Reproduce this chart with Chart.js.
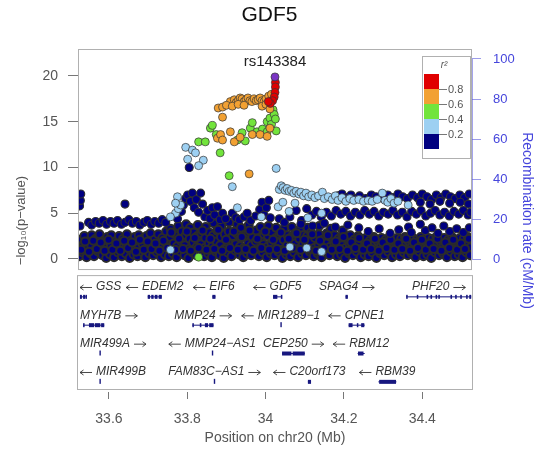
<!DOCTYPE html>
<html>
<head>
<meta charset="utf-8">
<script src="https://cdn.jsdelivr.net/npm/chart.js@4.4.1/dist/chart.umd.min.js"></script>
<style>
  html, body { margin: 0; padding: 0; background: #fff; }
  canvas { display: block; }
</style>
</head>
<body>
<canvas id="locus" width="539" height="449"></canvas>
<script>
const FONT = "'Liberation Sans', Arial, Helvetica, sans-serif";

// axis ticks
const posTicks = [33.6, 33.8, 34, 34.2, 34.4];
const pTicks = [0, 5, 10, 15, 20];
const recombTicks = [0, 20, 40, 60, 80, 100];
const ldBreaks = ['0.8', '0.6', '0.4', '0.2'];

// SNPs: [position (Mb), -log10 p]
const leadSnp = [[34.024, 19.9]];
const leadName = 'rs143384';

const ldRed = [[34.025, 19.3], [34.025, 18.8], [34.024, 18.2], [34.022, 17.7], [34.018, 17.3], [34.012, 17.0], [34.007, 17.2]];

const ldOrange = [
  [33.910, 17.2], [33.920, 17.4], [33.925, 17.1], [33.930, 17.3], [33.935, 17.6], [33.940, 17.5], [33.945, 17.2],
  [33.950, 17.4], [33.955, 17.6], [33.960, 17.3], [33.965, 17.2], [33.971, 17.5], [33.976, 17.3], [33.981, 17.4],
  [33.986, 17.6], [33.991, 17.3], [33.996, 17.2], [34.001, 17.5], [34.008, 17.8], [34.015, 18.0],
  [33.879, 16.5], [33.890, 16.6], [33.900, 16.8], [33.915, 16.7], [33.930, 16.9], [33.945, 16.8],
  [33.991, 16.7], [34.001, 16.9], [34.011, 16.4],
  [33.890, 15.5], [33.910, 13.9], [33.877, 13.2], [33.885, 13.6], [33.890, 13.0], [33.920, 12.8],
  [33.935, 13.3], [33.966, 13.6], [33.986, 13.6], [34.004, 13.4], [34.011, 14.3], [33.958, 9.3]
];

const ldGreen = [
  [33.829, 12.8], [33.846, 12.8], [33.859, 14.3], [33.864, 14.6], [33.874, 13.6], [33.882, 13.3], [33.884, 11.6],
  [33.907, 9.1], [33.928, 13.0], [33.940, 13.8], [33.948, 12.9], [33.961, 14.3], [33.966, 14.9], [33.978, 13.9],
  [33.992, 14.2], [34.004, 15.0], [34.011, 15.4], [34.019, 16.3], [34.022, 15.8], [34.004, 13.9], [34.015, 14.7],
  [34.025, 15.3], [34.027, 14.0], [33.829, 0.2]
];

const ldLightBlue = [
  [33.796, 12.2], [33.813, 11.9], [33.821, 11.6], [33.801, 10.9], [33.841, 10.8], [33.829, 10.2],
  [33.915, 7.9], [33.928, 5.6], [33.989, 4.6], [34.032, 5.7], [33.770, 5.0], [33.777, 5.5], [33.783, 5.9],
  [33.775, 6.8], [33.770, 6.1], [33.757, 4.6], [33.757, 1.0],
  [34.027, 9.9], [34.035, 7.6], [34.040, 8.0], [34.045, 7.8], [34.050, 7.5], [34.055, 7.7], [34.060, 7.4],
  [34.066, 7.5], [34.072, 7.2], [34.078, 7.4], [34.085, 7.1], [34.090, 7.3], [34.097, 6.9], [34.103, 7.2],
  [34.110, 6.8], [34.118, 7.0], [34.126, 6.7], [34.135, 6.9], [34.145, 7.3], [34.150, 6.6], [34.160, 6.8],
  [34.170, 6.5], [34.178, 6.9], [34.185, 6.4], [34.195, 6.7], [34.205, 6.3], [34.215, 6.6], [34.225, 6.4],
  [34.238, 6.5], [34.250, 6.3], [34.262, 6.4], [34.272, 6.3], [34.285, 6.5], [34.298, 7.2], [34.305, 6.4],
  [34.312, 6.2], [34.320, 6.6], [34.328, 6.1], [34.338, 6.3], [34.364, 5.9],
  [34.044, 6.2], [34.062, 1.3], [34.105, 1.2], [34.143, 0.8], [34.143, 5.0], [34.108, 4.5], [34.060, 5.2], [34.075, 6.1]
];

// r2 < 0.2: low carpet, left to right
const navyCarpetLeft = [
  [33.524, 0.3], [33.526, 1.2], [33.527, 2.1], [33.533, 0.7], [33.535, 1.6], [33.537, 2.5], [33.543, 0.2], [33.545, 1.1],
  [33.546, 1.9], [33.553, 0.6], [33.555, 1.4], [33.556, 2.6], [33.562, 0.3], [33.565, 1.0], [33.566, 2.2], [33.573, 0.8],
  [33.574, 1.7], [33.576, 2.7], [33.583, 0.4], [33.585, 1.3], [33.586, 2.0], [33.593, 0.1], [33.594, 0.9], [33.596, 2.4],
  [33.603, 0.5], [33.605, 1.5], [33.606, 2.6], [33.613, 0.2], [33.614, 1.1], [33.616, 1.9], [33.623, 0.7], [33.625, 1.6],
  [33.626, 2.5], [33.633, 0.3], [33.634, 1.2], [33.636, 2.2], [33.643, 0.6], [33.645, 1.4], [33.646, 2.7], [33.653, 0.1],
  [33.654, 1.0], [33.656, 2.0], [33.663, 0.5], [33.664, 1.5], [33.666, 2.4], [33.673, 0.3], [33.675, 1.2], [33.676, 2.6],
  [33.683, 0.8], [33.685, 1.7], [33.686, 2.2], [33.693, 0.2], [33.694, 1.1], [33.696, 2.5], [33.703, 0.6], [33.705, 1.4],
  [33.706, 2.8], [33.713, 0.4], [33.714, 1.0], [33.716, 2.1], [33.723, 0.7], [33.725, 1.6], [33.726, 2.7], [33.733, 0.2],
  [33.735, 1.3], [33.736, 2.3], [33.743, 0.5], [33.744, 1.8], [33.746, 3.0]
];

const navyCarpetMid = [
  [33.753, 0.3], [33.755, 1.2], [33.756, 2.4], [33.757, 3.3], [33.763, 0.6], [33.765, 1.7], [33.766, 2.8], [33.773, 0.2],
  [33.774, 1.4], [33.776, 2.5], [33.777, 3.6], [33.783, 0.8], [33.785, 1.9], [33.786, 3.0], [33.793, 0.4], [33.794, 1.5],
  [33.796, 2.6], [33.797, 3.8], [33.803, 0.1], [33.805, 1.1], [33.806, 2.2], [33.807, 3.4], [33.813, 0.7], [33.815, 1.8],
  [33.816, 2.9], [33.823, 0.4], [33.824, 1.3], [33.826, 2.5], [33.827, 3.7], [33.833, 0.9], [33.835, 1.6], [33.836, 2.8],
  [33.843, 0.3], [33.844, 1.2], [33.846, 2.3], [33.847, 3.5], [33.853, 0.6], [33.855, 1.7], [33.856, 2.9], [33.863, 0.2],
  [33.864, 1.4], [33.866, 2.6], [33.867, 3.9], [33.873, 0.8], [33.875, 1.9], [33.876, 3.1], [33.883, 0.4], [33.884, 1.5],
  [33.886, 2.4], [33.887, 3.6], [33.893, 0.1], [33.895, 1.1], [33.896, 2.7], [33.903, 0.7], [33.904, 1.8], [33.906, 3.0],
  [33.907, 4.0], [33.913, 0.3], [33.915, 1.3], [33.916, 2.5], [33.923, 0.9], [33.924, 1.6], [33.926, 2.8], [33.927, 3.8],
  [33.933, 0.5], [33.935, 1.4], [33.936, 2.3], [33.937, 3.4], [33.943, 0.2], [33.944, 1.2], [33.946, 2.6], [33.953, 0.6],
  [33.955, 1.7], [33.956, 2.9], [33.957, 3.7], [33.963, 0.4], [33.964, 1.5], [33.966, 2.4], [33.973, 0.8], [33.975, 1.9],
  [33.976, 3.1], [33.983, 0.3], [33.984, 1.1], [33.986, 2.2], [33.987, 3.5], [33.993, 0.7], [33.995, 1.6], [33.996, 2.7]
];

const navyCarpetRight = [
  [34.003, 0.2], [34.004, 1.3], [34.006, 2.5], [34.007, 3.6], [34.013, 0.6], [34.015, 1.7], [34.016, 2.9], [34.023, 0.4],
  [34.024, 1.2], [34.026, 2.3], [34.027, 3.4], [34.033, 0.8], [34.035, 1.8], [34.036, 2.7], [34.043, 0.1], [34.044, 1.0],
  [34.046, 2.1], [34.047, 3.3], [34.053, 0.5], [34.055, 1.5], [34.056, 2.6], [34.063, 0.3], [34.064, 1.3], [34.066, 2.4],
  [34.067, 3.5], [34.073, 0.7], [34.075, 1.7], [34.076, 2.8], [34.083, 0.2], [34.084, 1.1], [34.086, 2.2], [34.087, 3.2],
  [34.093, 0.6], [34.095, 1.6], [34.096, 2.6], [34.103, 0.4], [34.104, 1.4], [34.106, 2.5], [34.107, 3.4], [34.113, 0.8],
  [34.115, 1.9], [34.116, 2.9], [34.123, 0.3], [34.124, 1.2], [34.126, 2.3], [34.133, 0.6], [34.135, 1.5], [34.136, 2.7],
  [34.137, 3.6], [34.143, 0.2], [34.144, 1.1], [34.146, 2.1], [34.153, 0.7], [34.155, 1.7], [34.156, 2.8], [34.163, 0.4],
  [34.164, 1.3], [34.166, 2.4], [34.167, 3.3], [34.173, 0.9], [34.175, 1.8], [34.176, 2.6], [34.183, 0.3], [34.184, 1.0],
  [34.186, 2.2], [34.193, 0.5], [34.195, 1.5], [34.196, 2.5], [34.197, 3.1], [34.203, 0.1], [34.204, 1.2], [34.206, 2.3],
  [34.213, 0.6], [34.215, 1.6], [34.216, 2.6], [34.223, 0.4], [34.224, 1.3], [34.226, 2.1], [34.233, 0.8], [34.235, 1.7],
  [34.236, 2.5], [34.243, 0.2], [34.244, 1.1], [34.246, 2.2], [34.253, 0.5], [34.255, 1.4], [34.256, 2.3], [34.263, 0.3],
  [34.264, 1.2], [34.266, 2.0], [34.273, 0.7], [34.275, 1.6], [34.276, 2.4], [34.283, 0.1], [34.284, 1.0], [34.286, 1.9],
  [34.293, 0.6], [34.295, 1.5], [34.296, 2.3], [34.303, 0.4], [34.304, 1.3], [34.306, 2.1], [34.313, 0.8], [34.315, 1.7],
  [34.316, 2.4], [34.323, 0.2], [34.324, 1.1], [34.326, 2.0], [34.333, 0.5], [34.335, 1.4], [34.336, 2.3], [34.343, 0.3],
  [34.344, 1.2], [34.346, 2.2], [34.353, 0.7], [34.355, 1.6], [34.356, 2.4], [34.363, 0.4], [34.364, 1.0], [34.366, 1.9],
  [34.373, 0.6], [34.375, 1.5], [34.376, 2.3], [34.383, 0.2], [34.384, 1.3], [34.386, 2.1], [34.393, 0.8], [34.395, 1.7],
  [34.396, 2.4], [34.403, 0.3], [34.404, 1.1], [34.406, 2.0], [34.413, 0.5], [34.415, 1.4], [34.416, 2.3], [34.423, 0.1],
  [34.424, 1.2], [34.426, 2.2], [34.433, 0.7], [34.435, 1.6], [34.436, 2.4], [34.443, 0.4], [34.444, 1.0], [34.446, 1.9],
  [34.453, 0.6], [34.455, 1.5], [34.456, 2.3], [34.463, 0.2], [34.464, 1.3], [34.466, 2.1], [34.473, 0.8], [34.475, 1.7],
  [34.476, 2.4], [34.483, 0.3], [34.484, 1.1], [34.486, 2.0], [34.493, 0.5], [34.495, 1.4], [34.496, 2.3], [34.503, 0.2],
  [34.504, 1.2], [34.506, 2.2], [34.513, 0.7], [34.515, 1.6], [34.516, 2.4], [34.522, 0.4], [34.524, 1.3], [34.525, 2.1]
];

// extra carpet SNPs sitting between the columns above
const navyCarpetFill = [
  [33.529, 1.0], [33.539, 1.9], [33.549, 0.8], [33.560, 2.0], [33.569, 1.1], [33.579, 1.8], [33.589, 0.9], [33.599, 2.1],
  [33.609, 1.0], [33.619, 1.7], [33.629, 0.9], [33.639, 2.0], [33.649, 1.2], [33.659, 1.8], [33.669, 0.8], [33.679, 2.1],
  [33.689, 1.0], [33.699, 1.9], [33.709, 1.1], [33.719, 1.7], [33.729, 0.9], [33.739, 2.0], [33.749, 1.2], [33.759, 2.9],
  [33.769, 1.0], [33.779, 2.2], [33.789, 1.1], [33.799, 3.0], [33.809, 0.9], [33.819, 2.3], [33.829, 1.2], [33.839, 3.1],
  [33.849, 1.0], [33.859, 2.2], [33.869, 1.1], [33.879, 3.2], [33.889, 0.9], [33.899, 2.1], [33.909, 1.2], [33.919, 3.0],
  [33.929, 1.0], [33.939, 2.4], [33.949, 1.1], [33.959, 3.1], [33.969, 0.9], [33.979, 2.2], [33.989, 1.2], [33.999, 3.0],
  [34.009, 1.0], [34.019, 2.1], [34.029, 1.1], [34.039, 2.9], [34.049, 0.9], [34.059, 2.2], [34.069, 1.2], [34.079, 2.8],
  [34.089, 1.0], [34.099, 2.1], [34.109, 1.1], [34.119, 2.7], [34.129, 0.9], [34.139, 2.0], [34.149, 1.2], [34.159, 2.6],
  [34.169, 1.0], [34.179, 1.9], [34.189, 1.1], [34.199, 2.4], [34.209, 0.9], [34.219, 1.8], [34.229, 1.2], [34.239, 2.3],
  [34.249, 1.0], [34.259, 1.7], [34.269, 1.1], [34.279, 2.2], [34.289, 0.9], [34.299, 1.8], [34.309, 1.2], [34.319, 2.1],
  [34.329, 1.0], [34.339, 1.7], [34.349, 1.1], [34.359, 2.2], [34.369, 0.9], [34.379, 1.8], [34.389, 1.2], [34.399, 2.1],
  [34.409, 1.0], [34.419, 1.7], [34.429, 1.1], [34.439, 2.2], [34.449, 0.9], [34.459, 1.8], [34.469, 1.2], [34.479, 2.1],
  [34.489, 1.0], [34.499, 1.7], [34.509, 1.1], [34.519, 2.2]
];

// r2 < 0.2: upper bands and strays
const navyBandLeft = [
  [33.548, 4.0], [33.556, 3.7], [33.566, 4.1], [33.575, 3.9], [33.585, 4.2], [33.594, 3.8], [33.604, 4.1], [33.613, 3.9],
  [33.622, 4.2], [33.632, 3.8], [33.641, 4.0], [33.651, 4.3], [33.660, 3.9], [33.670, 4.1], [33.679, 3.7], [33.689, 4.0],
  [33.698, 4.2], [33.708, 3.8], [33.717, 4.1], [33.727, 3.9], [33.736, 4.3], [33.745, 4.0],
  [33.526, 3.6], [33.525, 5.8], [33.527, 6.4], [33.528, 7.1], [33.641, 6.0]
];

const navyBandMid = [
  [33.805, 10.0], [33.775, 4.4], [33.785, 5.2], [33.790, 5.9], [33.796, 6.6], [33.801, 7.0], [33.808, 6.3], [33.813, 7.2],
  [33.818, 5.6], [33.823, 6.5], [33.829, 5.1], [33.834, 7.2], [33.839, 6.0], [33.845, 4.6], [33.852, 5.3], [33.858, 4.4],
  [33.864, 5.6], [33.870, 4.8], [33.877, 5.7], [33.884, 4.3], [33.890, 5.0], [33.898, 4.4], [33.915, 5.0], [33.924, 4.5],
  [33.933, 4.3], [33.945, 4.6], [33.953, 5.0], [33.962, 4.2], [33.975, 4.7], [33.985, 5.4], [33.991, 6.2], [33.996, 4.8],
  [34.002, 5.6], [34.008, 6.4], [34.012, 4.5]
];

const navyBandRight = [
  [34.185, 6.9], [34.195, 7.1], [34.206, 6.7], [34.218, 7.0], [34.228, 6.6], [34.240, 6.9], [34.256, 6.6], [34.270, 7.0],
  [34.282, 6.8], [34.300, 6.6], [34.312, 7.0], [34.325, 6.7], [34.338, 7.1], [34.350, 6.8], [34.362, 6.6], [34.375, 7.0],
  [34.388, 6.7], [34.400, 7.1], [34.412, 6.8], [34.424, 6.5], [34.436, 7.0], [34.448, 6.7], [34.460, 7.1], [34.472, 6.8],
  [34.484, 6.6], [34.496, 7.0], [34.508, 6.7], [34.520, 7.1],
  [34.395, 6.2], [34.420, 6.0], [34.445, 6.3], [34.470, 6.1], [34.497, 6.2], [34.518, 6.0],
  [34.035, 4.4], [34.048, 4.0], [34.062, 4.6], [34.078, 5.3], [34.092, 4.2], [34.105, 5.5], [34.118, 4.8], [34.130, 5.2],
  [34.142, 4.6], [34.155, 5.1], [34.168, 4.7], [34.180, 5.3], [34.192, 4.9], [34.205, 5.2], [34.217, 4.7], [34.229, 5.1],
  [34.241, 4.8], [34.253, 5.3], [34.265, 4.9], [34.277, 5.2], [34.289, 4.7], [34.301, 5.1], [34.313, 4.9], [34.325, 5.3],
  [34.337, 4.8], [34.349, 5.1], [34.361, 4.6], [34.373, 5.2], [34.385, 4.9], [34.397, 5.3], [34.409, 4.7], [34.421, 5.0],
  [34.433, 5.3], [34.445, 4.8], [34.457, 5.1], [34.469, 4.7], [34.481, 5.2], [34.493, 4.9], [34.505, 5.3], [34.517, 4.8],
  [34.524, 5.1],
  [34.262, 3.0], [34.290, 3.3], [34.318, 2.8], [34.340, 3.2], [34.365, 3.5], [34.372, 2.9], [34.395, 3.8], [34.408, 3.1],
  [34.425, 3.4], [34.440, 2.8], [34.455, 3.6], [34.470, 3.0], [34.488, 3.3], [34.505, 2.9], [34.520, 3.4],
  [34.090, 3.8], [34.120, 3.6], [34.150, 3.9], [34.178, 3.5], [34.210, 3.7], [34.238, 3.4]
];

// genes in the region
const geneNames = ['GSS', 'EDEM2', 'EIF6', 'GDF5', 'SPAG4', 'PHF20', 'MYH7B', 'MMP24', 'MIR1289-1', 'CPNE1',
  'MIR499A', 'MMP24-AS1', 'CEP250', 'RBM12', 'MIR499B', 'FAM83C-AS1', 'C20orf173', 'RBM39'];
const geneRows = [1, 1, 1, 1, 1, 1, 2, 2, 2, 2, 3, 3, 3, 3, 4, 4, 4, 4];
const geneStrands = [-1, -1, -1, -1, 1, 1, 1, 1, -1, -1, 1, -1, 1, -1, -1, 1, -1, -1];
const geneSpans = [[33.526, 33.543], [33.699, 33.735], [33.864, 33.872], [34.019, 34.042], [34.204, 34.210],
  [34.359, 34.525], [33.534, 33.588], [33.813, 33.867], [34.039, 34.039], [34.212, 34.253], [33.577, 33.577],
  [33.864, 33.864], [34.042, 34.100], [34.235, 34.253], [33.577, 33.577], [33.869, 33.869], [34.108, 34.116],
  [34.288, 34.334]];
const geneExons = [
  [[33.526, 33.531], [33.534, 33.539], [33.540, 33.543]],
  [[33.699, 33.705], [33.708, 33.714], [33.717, 33.724], [33.727, 33.735]],
  [[33.864, 33.872]],
  [[34.019, 34.030], [34.039, 34.042]],
  [[34.204, 34.210]],
  [[34.359, 34.361], [34.386, 34.389], [34.411, 34.415], [34.421, 34.425], [34.434, 34.438], [34.441, 34.445],
   [34.472, 34.476], [34.484, 34.488], [34.497, 34.501], [34.512, 34.516], [34.520, 34.525]],
  [[33.534, 33.536], [33.549, 33.562], [33.564, 33.578], [33.580, 33.588]],
  [[33.813, 33.815], [33.832, 33.836], [33.845, 33.853], [33.856, 33.867]],
  [],
  [[34.212, 34.222], [34.233, 34.236], [34.244, 34.252]],
  [],
  [],
  [[34.042, 34.066], [34.069, 34.100]],
  [[34.236, 34.250]],
  [],
  [],
  [[34.108, 34.116]],
  [[34.290, 34.333]]
];

const ldColors = ['#e00000', '#f2a133', '#72e43c', '#9dd0f2', '#000080'];
const leadColor = '#7a35c4';
const geneColor = '#17177f';
const frameColor = '#b0b0b0';
const recombBlue = '#4646dc';

// panel extents in scale units
const mainFloor = -1.1;
const geneTop = 0.58;
const geneBottom = 4.6;

function pts(list) {
  return list.map(([x, y]) => ({ x, y }));
}

function snpSet(list, color, order, edge, edgeWidth) {
  return {
    data: pts(list),
    backgroundColor: color,
    borderColor: edge || 'rgba(55,55,55,0.9)',
    borderWidth: edgeWidth || 0.8,
    pointRadius: 4,
    pointHoverRadius: 4,
    order
  };
}

const navyCarpet = navyCarpetLeft.concat(navyCarpetMid, navyCarpetRight, navyCarpetFill);
const navyUpper = navyBandLeft.concat(navyBandMid, navyBandRight);

// thin arrow for gene strand, drawn next to the name
function strandArrow(ctx, x0, x1, yy, pointsRight) {
  const tip = pointsRight ? x1 : x0;
  const dir = pointsRight ? -1 : 1;
  ctx.beginPath();
  ctx.moveTo(x0, yy);
  ctx.lineTo(x1, yy);
  ctx.moveTo(tip + dir * 3.5, yy - 2.5);
  ctx.lineTo(tip, yy);
  ctx.lineTo(tip + dir * 3.5, yy + 2.5);
  ctx.stroke();
}

const locusPanels = {
  id: 'locusPanels',
  afterDatasetsDraw(chart) {
    const { ctx, chartArea: a, scales } = chart;
    const { x, y, y2, geneRow } = scales;
    ctx.save();

    // association panel frame
    const mainBottom = y.getPixelForValue(mainFloor);
    ctx.strokeStyle = frameColor;
    ctx.lineWidth = 1;
    ctx.strokeRect(a.left + 0.5, a.top + 0.5, a.right - a.left - 1, mainBottom - a.top);

    // recombination axis line
    ctx.strokeStyle = 'rgba(90,90,220,0.55)';
    ctx.beginPath();
    ctx.moveTo(a.right + 0.5, y2.getPixelForValue(0));
    ctx.lineTo(a.right + 0.5, y2.getPixelForValue(100));
    ctx.stroke();

    // lead SNP label
    const lx = x.getPixelForValue(leadSnp[0][0]);
    const ly = y.getPixelForValue(leadSnp[0][1]);
    ctx.fillStyle = '#222';
    ctx.font = '15px ' + FONT;
    ctx.textAlign = 'center';
    ctx.textBaseline = 'middle';
    ctx.fillText(leadName, lx, ly - 15);

    // r2 legend
    const bx = a.right - 50, by = a.top + 7;
    ctx.fillStyle = '#fff';
    ctx.fillRect(bx, by, 48, 102);
    ctx.strokeStyle = frameColor;
    ctx.strokeRect(bx + 0.5, by + 0.5, 48, 102);
    ctx.fillStyle = '#555';
    ctx.font = 'italic 10px ' + FONT;
    ctx.fillText('r\u00b2', bx + 22, by + 9);
    ldColors.forEach((c, k) => {
      ctx.fillStyle = c;
      ctx.fillRect(bx + 2, by + 18 + k * 15, 15, 15);
    });
    ctx.strokeStyle = '#777';
    ctx.fillStyle = '#555';
    ctx.font = '11px ' + FONT;
    ctx.textAlign = 'left';
    ldBreaks.forEach((t, k) => {
      const ty = by + 18 + (k + 1) * 15 + 0.5;
      ctx.beginPath();
      ctx.moveTo(bx + 17, ty);
      ctx.lineTo(bx + 25, ty);
      ctx.stroke();
      ctx.fillText(t, bx + 26, ty);
    });

    // gene panel
    const gTop = geneRow.getPixelForValue(geneTop);
    const gBottom = geneRow.getPixelForValue(geneBottom);
    ctx.strokeStyle = frameColor;
    ctx.strokeRect(a.left - 0.5, gTop + 0.5, a.right - a.left + 1, gBottom - gTop);

    ctx.font = 'italic 12px ' + FONT;
    ctx.textAlign = 'left';
    const arrowLen = 12, arrowGap = 4;
    geneNames.forEach((name, i) => {
      const row = geneRows[i];
      const [s, e] = geneSpans[i];
      const x0 = x.getPixelForValue(s);
      const x1 = x.getPixelForValue(e);
      const yText = geneRow.getPixelForValue(row);
      const yBar = geneRow.getPixelForValue(row + 0.33);

      ctx.fillStyle = geneColor;
      ctx.strokeStyle = geneColor;
      ctx.lineWidth = 1;
      if (geneExons[i].length === 0) {
        ctx.fillRect(x0 - 0.5, yBar - 2.5, 1.4, 5);
      } else {
        ctx.beginPath();
        ctx.moveTo(x0, yBar + 0.5);
        ctx.lineTo(x1, yBar + 0.5);
        ctx.stroke();
        geneExons[i].forEach(([es, ee]) => {
          const ex0 = x.getPixelForValue(es);
          const ex1 = x.getPixelForValue(ee);
          ctx.fillRect(ex0, yBar - 1.5, Math.max(ex1 - ex0, 1.5), 4);
        });
      }

      const shown = name.replace(/-/g, '\u2212');
      const tw = ctx.measureText(shown).width;
      const w = tw + arrowGap + arrowLen;
      let start = (x0 + x1) / 2 - w / 2;
      start = Math.max(start, a.left + 2);
      start = Math.min(start, a.right - 3 - w);

      ctx.fillStyle = '#333';
      ctx.strokeStyle = '#333';
      ctx.lineWidth = 0.9;
      if (geneStrands[i] > 0) {
        ctx.fillText(shown, start, yText);
        strandArrow(ctx, start + tw + arrowGap, start + w, yText + 0.5, true);
      } else {
        strandArrow(ctx, start, start + arrowLen, yText + 0.5, false);
        ctx.fillText(shown, start + arrowLen + arrowGap, yText);
      }
    });

    ctx.restore();
  }
};

new Chart(document.getElementById('locus'), {
  type: 'scatter',
  data: {
    datasets: [
      snpSet(leadSnp, leadColor, 0),
      snpSet(ldRed, ldColors[0], 1),
      snpSet(ldOrange, ldColors[1], 2),
      snpSet(ldGreen, ldColors[2], 3),
      snpSet(ldLightBlue, ldColors[3], 4),
      snpSet(navyUpper, ldColors[4], 5, '#303030', 1.1),
      snpSet(navyCarpet, ldColors[4], 6, '#2b2b2b', 2.0)
    ]
  },
  options: {
    responsive: false,
    animation: false,
    devicePixelRatio: 1,
    layout: { padding: 0 },
    plugins: {
      legend: { display: false },
      tooltip: { enabled: false },
      title: {
        display: true,
        text: 'GDF5',
        color: '#111',
        font: { family: FONT, size: 21, weight: 'normal' },
        padding: { top: 3, bottom: 20.8 }
      }
    },
    scales: {
      x: {
        type: 'linear',
        position: 'bottom',
        min: 33.521,
        max: 34.527,
        afterBuildTicks: (axis) => { axis.ticks = posTicks.map(v => ({ value: v })); },
        afterFit: (axis) => { axis.height = 57; },
        ticks: {
          color: '#555',
          font: { family: FONT, size: 14 },
          padding: 12,
          autoSkip: false,
          maxRotation: 0,
          callback: (v) => String(v)
        },
        grid: { drawOnChartArea: false, drawTicks: true, tickLength: 7, color: '#777' },
        border: { display: false },
        title: {
          display: true,
          text: 'Position on chr20 (Mb)',
          color: '#555',
          font: { family: FONT, size: 14 },
          padding: { top: 0, bottom: 2 }
        }
      },
      y: {
        type: 'linear',
        position: 'left',
        min: -14.54,
        max: 22.95,
        afterBuildTicks: (axis) => { axis.ticks = pTicks.map(v => ({ value: v })); },
        afterFit: (axis) => { axis.width = 78; },
        ticks: { color: '#555', font: { family: FONT, size: 14 }, padding: 10 },
        grid: { drawOnChartArea: false, drawTicks: true, tickLength: 10, color: '#777' },
        border: { display: false },
        title: {
          display: true,
          text: '\u2212log\u2081\u2080(p\u2212value)',
          color: '#555',
          font: { family: FONT, size: 13 },
          padding: { top: 14, bottom: 0 }
        }
      },
      y2: {
        type: 'linear',
        axis: 'y',
        position: 'right',
        min: -66.5,
        max: 105,
        afterBuildTicks: (axis) => { axis.ticks = recombTicks.map(v => ({ value: v })); },
        afterFit: (axis) => { axis.width = 67; },
        ticks: { color: recombBlue, font: { family: FONT, size: 13 }, padding: 12 },
        grid: { drawOnChartArea: false, drawTicks: true, tickLength: 9, color: 'rgba(90,90,220,0.6)' },
        border: { display: false },
        title: {
          display: true,
          text: 'Recombination rate (cM/Mb)',
          color: recombBlue,
          font: { family: FONT, size: 14 },
          padding: { top: 4, bottom: 0 }
        }
      },
      geneRow: {
        type: 'linear',
        axis: 'y',
        position: 'left',
        display: false,
        reverse: true,
        min: -7.40,
        max: 4.706
      }
    }
  },
  plugins: [locusPanels]
});
</script>
</body>
</html>
